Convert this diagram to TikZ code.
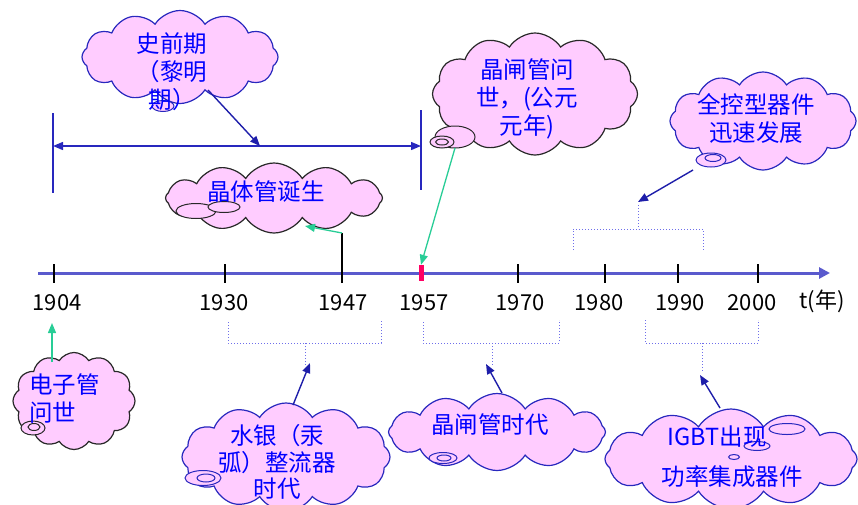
\documentclass[tikz,border=0pt]{standalone}
\usepackage{fontspec}
\setmainfont{Noto Sans CJK SC}
\usetikzlibrary{shapes.symbols,shapes.geometric,arrows.meta}
\definecolor{pinkfill}{RGB}{255,204,255}
\definecolor{txtblue}{RGB}{0,0,255}
\definecolor{edgeblue}{RGB}{40,40,190}
\definecolor{edgedark}{RGB}{40,40,40}
\definecolor{axisblue}{RGB}{90,90,205}
\definecolor{arrowblue}{RGB}{30,30,170}
\definecolor{greenarr}{RGB}{40,205,150}
\definecolor{dotblue}{RGB}{110,110,235}
\definecolor{redmark}{RGB}{255,0,100}
\tikzset{
  cloudbox/.style={cloud, cloud puffs=12, cloud puff arc=115, cloud ignores aspect,
     fill=pinkfill, line width=1.2pt, inner sep=0pt},
  bubble/.style={ellipse, fill=pinkfill, line width=1pt, inner sep=0pt},
  ctext/.style={text=txtblue, font=\fontsize{23.5}{28}\selectfont, align=center, inner sep=0pt},
  yearlab/.style={font=\fontsize{22}{24}\selectfont, inner sep=0pt},
  tickline/.style={line width=1.2pt, black},
  blarrow/.style={arrowblue, line width=1.4pt, -{Triangle[width=8pt,length=10pt]}},
  grarrow/.style={greenarr, line width=1.3pt, -{Triangle[width=8pt,length=10pt]}},
  dotline/.style={dotblue, line width=1pt, dotted},
}
\begin{document}
\begin{tikzpicture}[x=1pt,y=-1pt]
\useasboundingbox (0,0) rectangle (858,504);

% ---------- axis ----------
\coordinate (axL) at (38,273);
\coordinate (axR) at (830,273);
\draw[axisblue, line width=3pt, -{Triangle[width=11pt,length=11pt]}] (axL) -- (axR);
\foreach \xx in {54,225,518,605,678,758}{
  \draw[tickline] (\xx,264) -- (\xx,283);
}
\coordinate (t47top) at (342,233);
\coordinate (t47bot) at (342,283);
\draw[tickline] (t47bot) -- (t47top);
\node[fill=redmark, minimum width=5pt, minimum height=16pt, inner sep=0pt] (m57) at (421,273) {};

\node[yearlab] (y1904) at (57,303) {1904};
\node[yearlab] (y1930) at (224,303) {1930};
\node[yearlab] (y1947) at (343,303) {1947};
\node[yearlab] (y1957) at (424,303) {1957};
\node[yearlab] (y1970) at (520,303) {1970};
\node[yearlab] (y1980) at (599,303) {1980};
\node[yearlab] (y1990) at (680,303) {1990};
\node[yearlab] (y2000) at (752,303) {2000};
\node[yearlab] (yt) at (822,301) {t(年)};

% ---------- top span ----------
\coordinate (sL) at (53,146);
\coordinate (sR) at (421,146);
\draw[edgeblue, line width=1.6pt] (53,113) -- (53,193);
\draw[edgeblue, line width=1.6pt] (421,110) -- (421,190);
\draw[edgeblue, line width=1.4pt, {Triangle[width=8pt,length=10pt]}-{Triangle[width=8pt,length=10pt]}] (sL) -- (sR);
\coordinate (sMid) at (260,146);

% ---------- cloud 1 ----------
\node[cloudbox, draw=edgeblue, minimum width=196pt, minimum height=93pt] (c1) at (180,57) {};
\node[bubble, draw=edgeblue, minimum width=22pt, minimum height=11pt] (b1) at (163,106) {};
\node[ctext] (t1) at (172,72) {史前期\\（黎明\\期）};
\coordinate (c1a) at (208,90);
\draw[blarrow] (c1a) -- (sMid);

% ---------- cloud 2 ----------
\node[cloudbox, draw=edgedark, minimum width=217pt, minimum height=70pt] (c2) at (274,198) {};
\node[bubble, draw=edgedark, minimum width=40pt, minimum height=15pt] (b2a) at (196,211) {};
\node[bubble, draw=edgedark, minimum width=32pt, minimum height=11pt] (b2b) at (224,207) {};
\node[ctext] (t2) at (266,192) {晶体管诞生};
\coordinate (c2a) at (305,226);
\draw[grarrow] (t47top) -- (c2a);

% ---------- cloud 3 ----------
\node[cloudbox, draw=edgedark, minimum width=205pt, minimum height=122pt] (c3) at (535,94) {};
\node[bubble, draw=edgedark, minimum width=40pt, minimum height=22pt] (b3a) at (455,137) {};
\node[bubble, draw=edgedark, minimum width=24pt, minimum height=12pt] (b3b) at (442,142) {};
\node[bubble, draw=edgedark, minimum width=13pt, minimum height=6pt] (b3c) at (442,142) {};
\node[ctext] (t3) at (527,99) {晶闸管问\\世，(公元\\元年)};
\coordinate (c3a) at (455,148);
\draw[grarrow] (c3a) -- (m57.north);

% ---------- cloud 4 ----------
\node[cloudbox, draw=edgeblue, minimum width=186pt, minimum height=98pt] (c4) at (763,121) {};
\node[bubble, draw=edgeblue, minimum width=30pt, minimum height=14pt] (b4a) at (711,160) {};
\node[bubble, draw=edgeblue, minimum width=16pt, minimum height=7pt] (b4b) at (713,158) {};
\node[ctext] (t4) at (756,118) {全控型器件\\迅速发展};
\coordinate (c4a) at (693,170);
\coordinate (br4top) at (638,202);
\draw[blarrow] (c4a) -- (br4top);
\draw[dotline] (638,205) -- (638,229);
\draw[dotline] (573,250) -- (573,229) -- (703,229) -- (703,250);

% ---------- cloud 5 ----------
\node[cloudbox, draw=edgedark, minimum width=122pt, minimum height=97pt] (c5) at (74,401) {};
\node[bubble, draw=edgedark, minimum width=24pt, minimum height=14pt] (b5a) at (33,428) {};
\node[bubble, draw=edgedark, minimum width=12pt, minimum height=7pt] (b5b) at (34,427) {};
\node[ctext, anchor=west, align=left] (t5) at (29,399) {电子管\\问世};
\coordinate (c5a) at (52,362);
\coordinate (y04b) at (52,323);
\draw[grarrow] (c5a) -- (y04b);

% ---------- cloud 6 ----------
\node[cloudbox, draw=edgeblue, minimum width=208pt, minimum height=108pt] (c6) at (286,457) {};
\node[bubble, draw=edgeblue, minimum width=36pt, minimum height=15pt] (b6a) at (203,478) {};
\node[bubble, draw=edgeblue, minimum width=18pt, minimum height=8pt] (b6b) at (206,478) {};
\node[ctext, font=\fontsize{23.5}{26.5}\selectfont] (t6) at (277,462) {水银（汞\\弧）整流器\\时代};
\coordinate (c6a) at (293,405);
\coordinate (br6) at (310,363);
\draw[blarrow] (c6a) -- (br6);
\draw[dotline] (305,365) -- (305,343);
\draw[dotline] (228,322) -- (228,343) -- (381,343) -- (381,320);

% ---------- cloud 7 ----------
\node[cloudbox, draw=edgeblue, minimum width=217pt, minimum height=77pt] (c7) at (497,432) {};
\node[bubble, draw=edgeblue, minimum width=28pt, minimum height=11pt] (b7a) at (443,458) {};
\node[bubble, draw=edgeblue, minimum width=14pt, minimum height=6pt] (b7b) at (444,458) {};
\node[ctext] (t7) at (490,425) {晶闸管时代};
\coordinate (c7a) at (502,393);
\coordinate (br7) at (486,364);
\draw[blarrow] (c7a) -- (br7);
\draw[dotline] (492,343) -- (492,365);
\draw[dotline] (423,322) -- (423,343) -- (559,343) -- (559,320);

% ---------- cloud 8 ----------
\node[cloudbox, draw=edgeblue, minimum width=252pt, minimum height=100pt] (c8) at (731,459) {};
\node[bubble, draw=edgeblue, minimum width=36pt, minimum height=11pt] (b8a) at (787,429) {};
\node[bubble, draw=edgeblue, minimum width=26pt, minimum height=9pt] (b8b) at (757,446) {};
\node[bubble, draw=edgeblue, minimum width=11pt, minimum height=5pt] (b8c) at (734,457) {};
\node[ctext] (t8a) at (717,437) {IGBT出现};
\node[ctext] (t8b) at (732,477) {功率集成器件};
\coordinate (c8a) at (720,408);
\coordinate (br8) at (700,375);
\draw[blarrow] (c8a) -- (br8);
\draw[dotline] (702,343) -- (702,372);
\draw[dotline] (645,320) -- (645,343) -- (758,343) -- (758,320);
\end{tikzpicture}
\end{document}
